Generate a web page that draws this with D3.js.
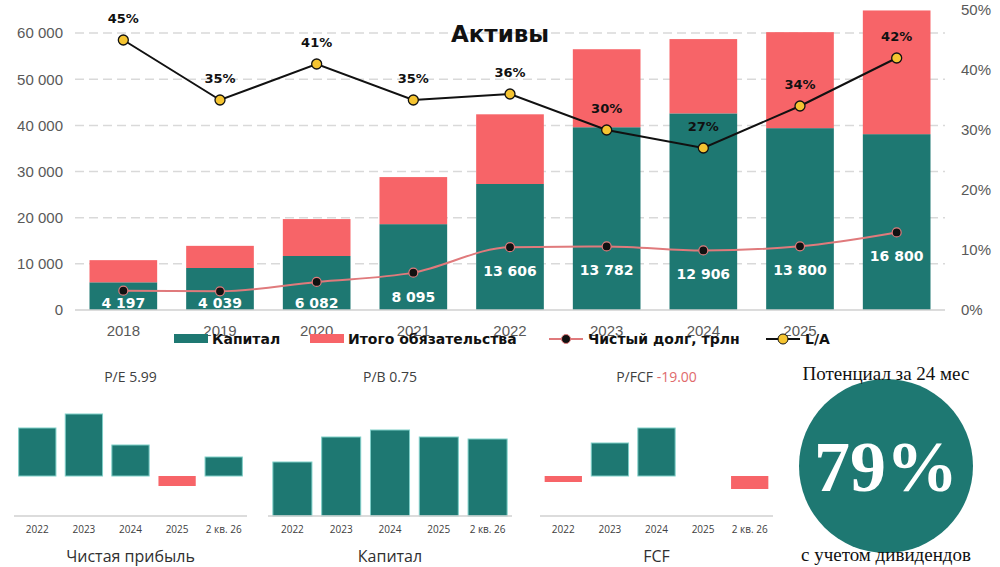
<!DOCTYPE html>
<html>
<head>
<meta charset="utf-8">
<script src="https://cdn.jsdelivr.net/npm/d3@7"></script>
<style>
  body { margin: 0; background: #fff; }
  svg { display: block; }
</style>
</head>
<body>
<svg id="chart" width="1000" height="567"></svg>
<script>
// main chart data
const years = ["2018", "2019", "2020", "2021", "2022", "2023", "2024", "2025", "2026"];
const yearLabels = ["2018", "2019", "2020", "2021", "2022", "2023", "2024", "2025", ""];
const capital = [6000, 9100, 11700, 18600, 27300, 39600, 42600, 39400, 38100];
const liabilities = [4800, 4800, 8000, 10200, 15100, 16900, 16100, 20800, 26800];
const netDebt = [4197, 4039, 6082, 8095, 13606, 13782, 12906, 13800, 16800];
const laRatio = [45, 35, 41, 35, 36, 30, 27, 34, 42];
const leftTicks = [0, 10000, 20000, 30000, 40000, 50000, 60000];
const rightTicks = [0, 10, 20, 30, 40, 50];

// small charts data (relative units)
const smallCats = ["2022", "2023", "2024", "2025", "2 кв. 26"];
const profit = [48, 62, 31, -10, 19];
const equity = [54, 79, 86, 79, 77];
const fcf = [-6, 33, 48, 0, -13];

const teal = "#1e7872", red = "#f76468";
const svg = d3.select("#chart");

// ---------- main chart ----------
const m = { left: 75, right: 945, top: 10, bottom: 310 };
const x = d3.scaleBand().domain(years).range([m.left, m.right]).paddingInner(0.3).paddingOuter(0.15);
const y = d3.scaleLinear().domain([0, 65000]).range([m.bottom, m.top]);
const yR = d3.scaleLinear().domain([0, 50]).range([m.bottom, m.top]);
const cx = d => x(d) + x.bandwidth() / 2;

// grid
svg.append("g").selectAll("line").data(leftTicks.slice(1)).join("line")
  .attr("x1", m.left).attr("x2", m.right)
  .attr("y1", d => y(d)).attr("y2", d => y(d))
  .attr("stroke", "#d9d9d9").attr("stroke-width", 1.5).attr("stroke-dasharray", "9,5");

const yAxis = svg.append("g").attr("transform", `translate(${m.left - 8},0)`)
  .call(d3.axisLeft(y).tickValues(leftTicks).tickSize(0).tickPadding(4)
    .tickFormat(d => d3.format(",")(d).replace(",", " ")));
yAxis.select(".domain").remove();
yAxis.selectAll("text").attr("font-family", "Liberation Sans").attr("font-size", 15).attr("fill", "#595959");

const yAxisR = svg.append("g").attr("transform", `translate(${m.right + 12},0)`)
  .call(d3.axisRight(yR).tickValues(rightTicks).tickSize(0).tickPadding(4).tickFormat(d => d + "%"));
yAxisR.select(".domain").remove();
yAxisR.selectAll("text").attr("font-family", "Liberation Sans").attr("font-size", 15).attr("fill", "#595959");

// bars
const stacks = years.map((yr, i) => ({ yr, c: capital[i], l: liabilities[i] }));
svg.append("g").selectAll("rect").data(stacks).join("rect")
  .attr("x", d => x(d.yr)).attr("width", x.bandwidth())
  .attr("y", d => y(d.c)).attr("height", d => y(0) - y(d.c)).attr("fill", teal);
svg.append("g").selectAll("rect").data(stacks).join("rect")
  .attr("x", d => x(d.yr)).attr("width", x.bandwidth())
  .attr("y", d => y(d.c + d.l)).attr("height", d => y(d.c) - y(d.c + d.l)).attr("fill", red);

svg.append("line").attr("x1", m.left).attr("x2", m.right).attr("y1", y(0)).attr("y2", y(0))
  .attr("stroke", "#d0d0d0").attr("stroke-width", 1.5);

// x labels
svg.append("g").selectAll("text").data(years).join("text")
  .attr("x", d => cx(d)).attr("y", 336).attr("text-anchor", "middle")
  .attr("font-family", "Liberation Sans").attr("font-size", 15).attr("fill", "#595959")
  .text((d, i) => yearLabels[i]);

// net debt line
const ndLine = d3.line().x((d, i) => cx(years[i])).y(d => y(d)).curve(d3.curveMonotoneX);
svg.append("path").datum(netDebt).attr("d", ndLine).attr("fill", "none")
  .attr("stroke", "#e07a7c").attr("stroke-width", 2);
svg.append("g").selectAll("circle").data(netDebt).join("circle")
  .attr("cx", (d, i) => cx(years[i])).attr("cy", d => y(d)).attr("r", 4.5)
  .attr("fill", "#111").attr("stroke", "#e07a7c").attr("stroke-width", 1.2);
svg.append("g").selectAll("text").data(netDebt).join("text")
  .attr("x", (d, i) => cx(years[i])).attr("y", d => Math.min(y(d) + 29, 308))
  .attr("text-anchor", "middle").attr("font-family", "DejaVu Sans").attr("font-weight", "bold")
  .attr("font-size", 14).attr("fill", "#fff")
  .text(d => d3.format(",")(d).replace(",", " "));

// L/A line
const laLine = d3.line().x((d, i) => cx(years[i])).y(d => yR(d));
svg.append("path").datum(laRatio).attr("d", laLine).attr("fill", "none")
  .attr("stroke", "#111").attr("stroke-width", 2);
svg.append("g").selectAll("circle").data(laRatio).join("circle")
  .attr("cx", (d, i) => cx(years[i])).attr("cy", d => yR(d)).attr("r", 5)
  .attr("fill", "#f5c431").attr("stroke", "#111").attr("stroke-width", 1.3);
svg.append("g").selectAll("text").data(laRatio).join("text")
  .attr("x", (d, i) => cx(years[i])).attr("y", d => yR(d) - 17)
  .attr("text-anchor", "middle").attr("font-family", "DejaVu Sans").attr("font-weight", "bold")
  .attr("font-size", 13).attr("fill", "#111").text(d => d + "%");

// title
svg.append("text").attr("x", 500).attr("y", 42).attr("text-anchor", "middle")
  .attr("font-family", "DejaVu Sans").attr("font-weight", "bold").attr("font-size", 23)
  .attr("fill", "#111").text("Активы");

// legend
const lg = svg.append("g").attr("font-family", "DejaVu Sans").attr("font-weight", "bold").attr("font-size", 14).attr("fill", "#111");
lg.append("rect").attr("x", 174).attr("y", 334).attr("width", 34).attr("height", 9).attr("fill", teal);
lg.append("text").attr("x", 212).attr("y", 344).text("Капитал");
lg.append("rect").attr("x", 310).attr("y", 334).attr("width", 34).attr("height", 9).attr("fill", red);
lg.append("text").attr("x", 348).attr("y", 344).text("Итого обязательства");
lg.append("line").attr("x1", 549).attr("x2", 583).attr("y1", 339).attr("y2", 339).attr("stroke", "#e07a7c").attr("stroke-width", 2);
lg.append("circle").attr("cx", 566).attr("cy", 339).attr("r", 4.5).attr("fill", "#111").attr("stroke", "#e07a7c");
lg.append("text").attr("x", 588).attr("y", 344).text("Чистый долг, трлн");
lg.append("line").attr("x1", 766).attr("x2", 800).attr("y1", 339).attr("y2", 339).attr("stroke", "#111").attr("stroke-width", 2);
lg.append("circle").attr("cx", 783).attr("cy", 339).attr("r", 5).attr("fill", "#f5c431").attr("stroke", "#111");
lg.append("text").attr("x", 805).attr("y", 344).text("L/A");

// ---------- small charts ----------
function smallChart(x0, x1, values, zeroY, title, valueText, valueColor, caption) {
  const sx = d3.scaleBand().domain(smallCats).range([x0, x1]).paddingInner(0.2).paddingOuter(0.1);
  const sy = d3.scaleLinear().domain([0, 100]).range([zeroY, zeroY - 100]);
  const g = svg.append("g");
  g.selectAll("rect").data(values).join("rect")
    .attr("x", (d, i) => sx(smallCats[i])).attr("width", sx.bandwidth())
    .attr("y", d => sy(Math.max(d, 0))).attr("height", d => Math.abs(sy(d) - sy(0)))
    .attr("fill", d => d < 0 ? red : teal)
    .attr("stroke", d => d < 0 ? "none" : "#7fcfc8").attr("stroke-width", 1);
  g.append("line").attr("x1", x0).attr("x2", x1).attr("y1", 516).attr("y2", 516)
    .attr("stroke", "#d0d0d0").attr("stroke-width", 1.5);
  g.selectAll(".lab").data(smallCats).join("text")
    .attr("x", d => sx(d) + sx.bandwidth() / 2).attr("y", 533).attr("text-anchor", "middle")
    .attr("font-family", "Open Sans").attr("font-size", 10).attr("fill", "#404040").text(d => d);
  const t = g.append("text").attr("x", (x0 + x1) / 2).attr("y", 382).attr("text-anchor", "middle")
    .attr("font-family", "Open Sans").attr("font-size", 14).attr("fill", "#404040");
  t.append("tspan").text(title + "   ");
  t.append("tspan").attr("fill", valueColor).text(valueText);
  g.append("text").attr("x", (x0 + x1) / 2).attr("y", 562).attr("text-anchor", "middle")
    .attr("font-family", "Open Sans").attr("font-size", 16).attr("fill", "#303030").text(caption);
}
smallChart(14, 247, profit, 476, "P/E", "5.99", "#404040", "Чистая прибыль");
smallChart(268, 512, equity, 516, "P/B", "0.75", "#404040", "Капитал");
smallChart(540, 773, fcf, 476, "P/FCF", "-19.00", "#e06a6c", "FCF");

// potential circle
svg.append("circle").attr("cx", 886).attr("cy", 466).attr("r", 87).attr("fill", teal);
svg.append("text").attr("x", 886).attr("y", 491).attr("text-anchor", "middle")
  .attr("font-family", "Liberation Serif").attr("font-weight", "bold").attr("font-size", 72)
  .attr("fill", "#fff").text("79%");
svg.append("text").attr("x", 886).attr("y", 380).attr("text-anchor", "middle")
  .attr("font-family", "Liberation Serif").attr("font-size", 19).attr("fill", "#111").text("Потенциал за 24 мес");
svg.append("text").attr("x", 886).attr("y", 561).attr("text-anchor", "middle")
  .attr("font-family", "Liberation Serif").attr("font-size", 19).attr("fill", "#111").text("с учетом дивидендов");
</script>
</body>
</html>
